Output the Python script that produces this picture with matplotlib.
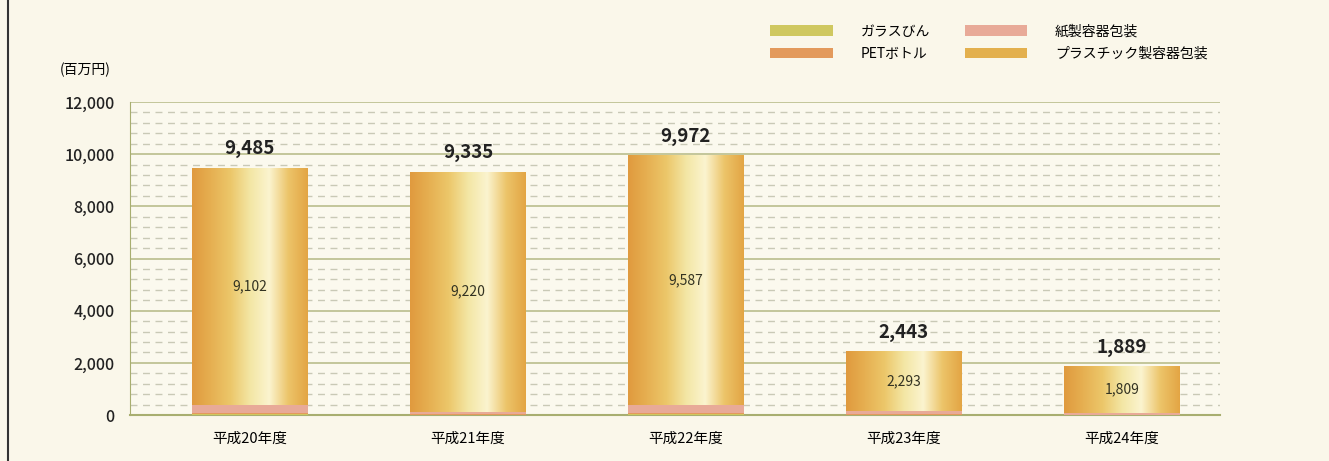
import numpy as np
import matplotlib.pyplot as plt
from matplotlib.colors import LinearSegmentedColormap
from matplotlib.patches import Patch

plt.rcParams['font.family'] = ['Noto Sans CJK JP', 'DejaVu Sans']

# データ（百万円）
years = ["平成20年度", "平成21年度", "平成22年度", "平成23年度", "平成24年度"]
glass = [30, 10, 30, 10, 5]
pet = [50, 20, 50, 20, 10]
paper = [303, 85, 305, 120, 65]
plastic = [9102, 9220, 9587, 2293, 1809]
totals = [9485, 9335, 9972, 2443, 1889]

series_names = ["ガラスびん", "PETボトル", "紙製容器包装", "プラスチック製容器包装"]
series_colors = ["#cfc860", "#e39a5c", "#e8aa98", "#e3b04e"]

fig = plt.figure(figsize=(13.29, 4.61), dpi=100)
fig.patch.set_facecolor("#faf7ea")
ax = fig.add_axes([130 / 1329, 46 / 461, 1090 / 1329, 313 / 461])
ax.set_facecolor("#fbf9ee")

x = np.arange(len(years))
w = 0.53

# グラデーション（横方向）
grad = LinearSegmentedColormap.from_list(
    "bar", ["#e09a3e", "#e6b052", "#ecc76a", "#f3e6a4", "#fbf4cf", "#ecc469", "#e3a544"])
g = np.linspace(0, 1, 256).reshape(1, -1)

bottom = np.zeros(len(years))
for vals, col in zip([glass, pet, paper, plastic], series_colors):
    bars = ax.bar(x, vals, w, bottom=bottom, color=col, edgecolor="none", zorder=3)
    if vals is plastic:
        for b in bars:
            x0, y0 = b.get_x(), b.get_y()
            img = ax.imshow(g, cmap=grad, aspect="auto", zorder=3.5,
                            extent=[x0, x0 + b.get_width(), y0, y0 + b.get_height()])
            img.set_clip_path(b)
    bottom += np.array(vals)

ax.set_xlim(-0.55, 4.45)
ax.set_ylim(0, 12000)
ax.set_yticks(np.arange(0, 12001, 2000))
ax.set_yticklabels([f"{v:,}" for v in range(0, 12001, 2000)])
ax.set_yticks(np.arange(0, 12001, 400), minor=True)
ax.grid(axis="y", which="major", color="#b9bd8c", lw=1.2, zorder=1)
ax.grid(axis="y", which="minor", color="#c9c9b6", lw=1.0, ls=(0, (5, 4)), zorder=1)
ax.set_xticks(x)
ax.set_xticklabels(years, fontsize=10.5)
ax.tick_params(axis="both", which="both", length=0)
ax.tick_params(axis="x", pad=12)
ax.tick_params(axis="y", labelsize=11.5, pad=11)
for lab in ax.get_yticklabels():
    lab.set_fontweight("medium")
    lab.set_color("#222222")
for s in ["top", "right"]:
    ax.spines[s].set_visible(False)
ax.spines["left"].set_color("#a8ae70")
ax.spines["bottom"].set_color("#a8ae70")
ax.spines["bottom"].set_linewidth(1.5)

# ラベル
bases = np.array(glass) + np.array(pet) + np.array(paper)
for i in range(len(years)):
    ax.text(x[i], totals[i] + 350, f"{totals[i]:,}", ha="center", va="bottom",
            fontsize=13.5, fontweight="bold", color="#222222", zorder=5)
    ax.text(x[i], bases[i] + plastic[i] / 2, f"{plastic[i]:,}", ha="center", va="center",
            fontsize=10, color="#333322", zorder=5)

fig.text(85 / 1329, 1 - 70 / 461, "(百万円)", ha="center", va="center", fontsize=10)

handles = [Patch(facecolor=series_colors[i], edgecolor="none") for i in range(4)]
fig.legend(handles, series_names, ncol=2, loc="upper right",
           bbox_to_anchor=(1220 / 1329, 1 - 12 / 461), frameon=False,
           fontsize=10, handlelength=4.5, handleheight=0.8, columnspacing=2.5,
           handletextpad=2.0, labelspacing=0.6)

fig.add_artist(plt.Line2D([8 / 1329, 8 / 1329], [0, 1], color="#333333", lw=1.5,
                          transform=fig.transFigure))

fig.savefig("out.png", dpi=100, facecolor=fig.get_facecolor())
